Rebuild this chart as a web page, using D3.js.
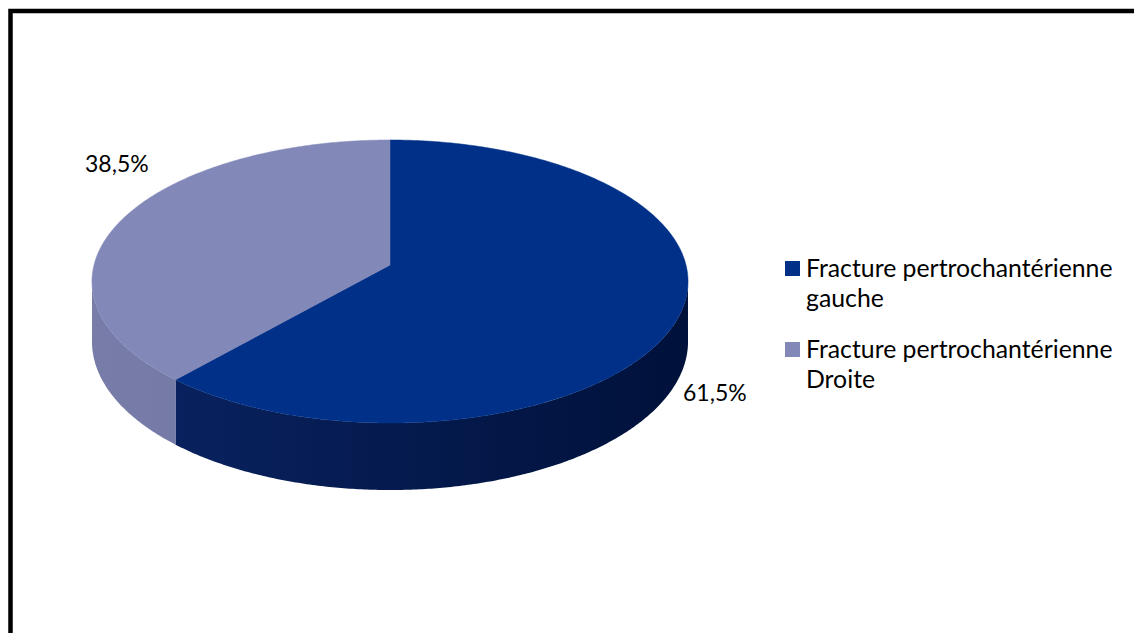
<!DOCTYPE html>
<html>
<head>
<meta charset="utf-8">
<script src="https://cdn.jsdelivr.net/npm/d3@7"></script>
<style>
  html, body { margin: 0; padding: 0; background: #ffffff; }
  svg { display: block; }
  text { font-family: "Lato", "Open Sans", sans-serif; fill: #000; }
</style>
</head>
<body>
<svg id="chart" width="1134" height="633"></svg>
<script>
// Data
const categories = ["Fracture pertrochantérienne gauche", "Fracture pertrochantérienne Droite"];
const legendLines = [["Fracture pertrochantérienne", "gauche"], ["Fracture pertrochantérienne", "Droite"]];
const values = [61.5, 38.5];
const valueLabels = ["61,5%", "38,5%"];

// Styles
const topColors = ["#003087", "#8289b9"];
const sideLeft = ["#0a2464", "#777da8"];
const sideRight = ["#00113a", "#686e96"];

const W = 1134, H = 633;
const svg = d3.select("#chart");
const defs = svg.append("defs");

// Frame
svg.append("rect")
  .attr("x", 10.5).attr("y", 11)
  .attr("width", W + 20).attr("height", H + 20)
  .attr("fill", "#fff").attr("stroke", "#000").attr("stroke-width", 4.5);

// Perspective disc projection
const cx = 390, cy = 265;
const A = 296, B = 139.6, p = 0.1166;
const depth0 = 59.2;

function proj(theta, r, drop) {
  const u = r * Math.sin(theta), v = -r * Math.cos(theta);
  const w = 1 - p * v;
  return [cx + A * u / w, cy + B * v / w + drop / w];
}

const pie = d3.pie().sort(null).startAngle(0).endAngle(2 * Math.PI);
const arcs = pie(values);

const leftX = cx - A / Math.sqrt(1 - p * p), rightX = cx + A / Math.sqrt(1 - p * p);

// Horizontal shading of each slice's outer wall
arcs.forEach((a, i) => {
  const g = defs.append("linearGradient")
    .attr("id", "side" + i)
    .attr("gradientUnits", "userSpaceOnUse")
    .attr("x1", leftX).attr("x2", rightX).attr("y1", 0).attr("y2", 0);
  g.append("stop").attr("offset", 0).attr("stop-color", sideLeft[i]);
  g.append("stop").attr("offset", 1).attr("stop-color", sideRight[i]);
});

// Front-facing range of the wall (between the silhouette tangents)
const visStart = Math.PI / 2 + Math.asin(p) - 0.02;
const visEnd = 3 * Math.PI / 2 - Math.asin(p) + 0.02;
const step = Math.PI / 360;
const line = d3.line();

function wallPath(a) {
  const t0 = Math.max(a.startAngle, visStart), t1 = Math.min(a.endAngle, visEnd);
  if (t1 <= t0) return null;
  const n = Math.max(2, Math.ceil((t1 - t0) / step));
  const topPts = [], botPts = [];
  for (let k = 0; k <= n; k++) {
    const t = t0 + (t1 - t0) * k / n;
    topPts.push(proj(t, 1, 0));
    botPts.push(proj(t, 1, depth0));
  }
  return line(topPts.concat(botPts.reverse())) + "Z";
}

svg.append("g").selectAll("path").data(arcs.filter(a => wallPath(a))).join("path")
  .attr("d", a => wallPath(a))
  .attr("fill", a => `url(#side${a.index})`);

// Top faces
svg.append("g").selectAll("path").data(arcs).join("path")
  .attr("d", a => {
    const pts = [proj(0, 0, 0)];
    const n = Math.ceil((a.endAngle - a.startAngle) / step);
    for (let k = 0; k <= n; k++) {
      pts.push(proj(a.startAngle + (a.endAngle - a.startAngle) * k / n, 1, 0));
    }
    return line(pts) + "Z";
  })
  .attr("fill", (a, i) => topColors[i])
  .attr("stroke", (a, i) => topColors[i])
  .attr("stroke-width", 0.5);

// Value labels
const labelPos = [[683, 401], [85, 172]];
svg.append("g").selectAll("text").data(valueLabels).join("text")
  .attr("x", (d, i) => labelPos[i][0])
  .attr("y", (d, i) => labelPos[i][1])
  .attr("font-size", 23)
  .text(d => d);

// Legend
const legend = svg.append("g");
const entryY = [277, 358];
legendLines.forEach((lines, i) => {
  legend.append("rect")
    .attr("x", 785).attr("y", entryY[i] - 16)
    .attr("width", 15).attr("height", 15)
    .attr("fill", topColors[i]);
  lines.forEach((t, j) => {
    legend.append("text")
      .attr("x", 806).attr("y", entryY[i] + j * 29.5)
      .attr("font-size", 24.8)
      .text(t);
  });
});
</script>
</body>
</html>
